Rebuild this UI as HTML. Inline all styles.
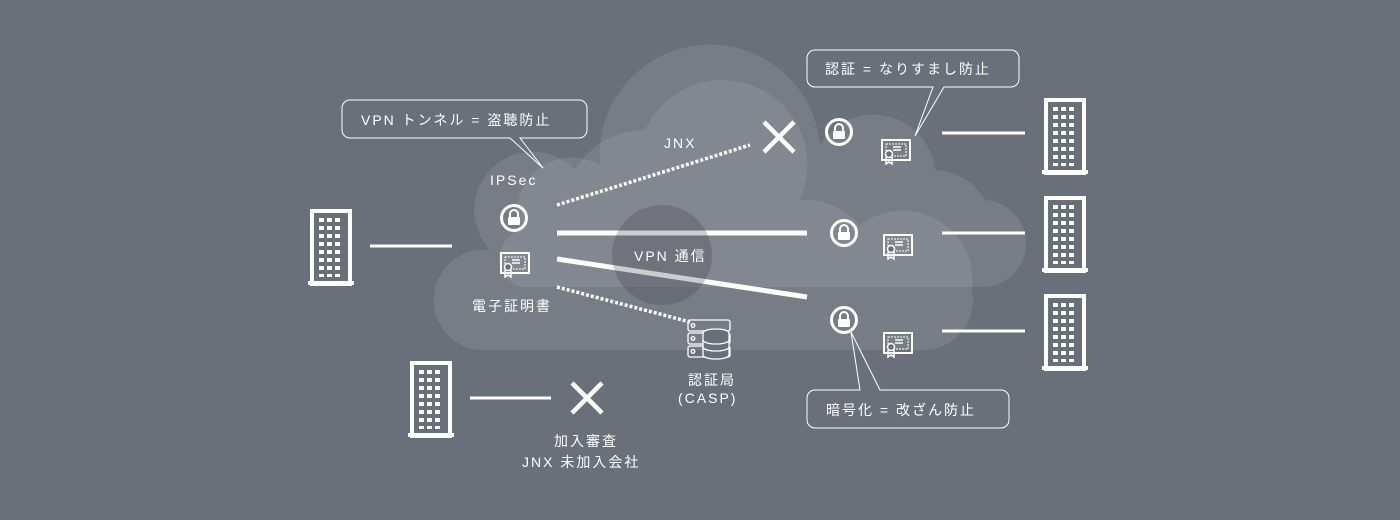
<!DOCTYPE html>
<html><head><meta charset="utf-8"><style>
html,body{margin:0;padding:0;background:#6a7079;}
svg{display:block}
text{font-family:"Liberation Sans","Noto Sans CJK JP",sans-serif;fill:#fff;font-size:14px;letter-spacing:2px}
</style></head><body>
<svg width="1400" height="520" viewBox="0 0 1400 520" xmlns="http://www.w3.org/2000/svg">
<defs>
<g id="bld">
 <rect x="4" y="2" width="38" height="73" fill="none" stroke="#fff" stroke-width="4"/>
 <rect x="0" y="72" width="46" height="4" fill="#fff"/>
 <g fill="#fff">
  <rect x="11" y="9" width="5" height="4"/><rect x="19" y="9" width="5" height="4"/><rect x="27" y="9" width="5" height="4"/>
  <rect x="11" y="17" width="5" height="4"/><rect x="19" y="17" width="5" height="4"/><rect x="27" y="17" width="5" height="4"/>
  <rect x="11" y="25" width="5" height="4"/><rect x="19" y="25" width="5" height="4"/><rect x="27" y="25" width="5" height="4"/>
  <rect x="11" y="33" width="5" height="4"/><rect x="19" y="33" width="5" height="4"/><rect x="27" y="33" width="5" height="4"/>
  <rect x="11" y="41" width="5" height="4"/><rect x="19" y="41" width="5" height="4"/><rect x="27" y="41" width="5" height="4"/>
  <rect x="11" y="49" width="5" height="4"/><rect x="19" y="49" width="5" height="4"/><rect x="27" y="49" width="5" height="4"/>
  <rect x="11" y="57" width="5" height="4"/><rect x="19" y="57" width="5" height="4"/><rect x="27" y="57" width="5" height="4"/>
  <rect x="11" y="65" width="5" height="3"/><rect x="19" y="65" width="5" height="3"/><rect x="27" y="65" width="5" height="3"/>
 </g>
</g>
<g id="lock">
 <circle cx="0" cy="0" r="12.5" fill="none" stroke="#fff" stroke-width="3"/>
 <path d="M-4,-1 v-3 a4,4 0 0 1 8,0 v3" fill="none" stroke="#fff" stroke-width="2"/>
 <rect x="-6" y="-1" width="12" height="8" rx="1" fill="#fff"/>
</g>
<g id="cert">
 <rect x="-14" y="-10" width="28" height="20" fill="none" stroke="#fff" stroke-width="2"/>
 <path d="M-10,-6 h20 v12 h-20 z" fill="none" stroke="#fff" stroke-width="1" stroke-dasharray="2 1"/>
 <line x1="-3" y1="-3" x2="5" y2="-3" stroke="#fff" stroke-width="1.5"/>
 <line x1="-3" y1="0" x2="5" y2="0" stroke="#fff" stroke-width="1.5"/>
 <circle cx="-7" cy="4" r="3.5" fill="#6a7079" stroke="#fff" stroke-width="1.5"/>
 <path d="M-10,7 v7 l3,-2 l3,2 v-7" fill="none" stroke="#fff" stroke-width="1.5"/>
</g>
</defs>

<!-- back cloud -->
<g fill="#fff" fill-opacity="0.09">
 <path d="M520,287 L980,287 A42,42 0 0 0 985,200 A60,60 0 0 0 935,170 A62,62 0 0 0 820,145 A110,110 0 0 0 600,165 A55,55 0 0 0 520,230 A30,30 0 0 0 520,287 Z"/>
</g>
<!-- front cloud -->
<g fill="#fff" fill-opacity="0.09">
 <path d="M478,350 L925,350 A50,50 0 0 0 972,290 A70,70 0 0 0 860,225 A75,75 0 0 0 800,200 A80,80 0 0 0 645,130 A80,80 0 0 0 575,170 A55,55 0 0 0 490,250 A50,50 0 0 0 478,350 Z"/>
</g>
<!-- dark circle -->
<circle cx="662" cy="255" r="50" fill="#000" fill-opacity="0.12"/>

<!-- left building -->
<use href="#bld" x="308" y="209"/>
<line x1="370" y1="246" x2="452" y2="246" stroke="#fff" stroke-width="3"/>
<use href="#lock" x="514" y="218"/>
<use href="#cert" x="515" y="263"/>
<text x="490" y="185" font-size="13">IPSec</text>
<text x="472" y="311">電子証明書</text>

<!-- bubble 1 -->
<path d="M350,100 H579 a8,8 0 0 1 8,8 V130 a8,8 0 0 1 -8,8 H520 L543,168 L510,138 H350 a8,8 0 0 1 -8,-8 V108 a8,8 0 0 1 8,-8 Z" fill="#6a7079" fill-opacity="0.3" stroke="#fff" stroke-width="1"/>
<text x="361" y="125">VPN トンネル = 盗聴防止</text>

<!-- lines -->
<line x1="557" y1="205" x2="750" y2="145" stroke="#fff" stroke-width="3.5" stroke-dasharray="3 2"/>
<text x="664" y="148" font-size="13">JNX</text>
<g stroke="#fff" stroke-width="4.5"><line x1="764" y1="122" x2="794" y2="152"/><line x1="794" y1="122" x2="764" y2="152"/></g>
<line x1="557" y1="233" x2="807" y2="233" stroke="#fff" stroke-width="5"/>
<line x1="557" y1="259" x2="807" y2="297" stroke="#fff" stroke-width="5"/>
<circle cx="662" cy="255" r="50" fill="#6a7079" fill-opacity="0.35"/>
<text x="634" y="261">VPN 通信</text>
<line x1="557" y1="287" x2="690" y2="322" stroke="#fff" stroke-width="3.5" stroke-dasharray="3 2"/>

<!-- server -->
<g fill="none" stroke="#fff" stroke-width="1.3">
 <rect x="688" y="320" width="42" height="11" rx="2"/>
 <rect x="688" y="333" width="42" height="11" rx="2"/>
 <rect x="688" y="346" width="42" height="11" rx="2"/>
 <circle cx="693" cy="325.5" r="1.8"/><circle cx="693" cy="338.5" r="1.8"/><circle cx="693" cy="351.5" r="1.8"/>
 <ellipse cx="716" cy="333" rx="13" ry="4" fill="#6a7079"/>
 <path d="M703,333 v22 a13,4 0 0 0 26,0 v-22" fill="#6a7079"/>
 <path d="M703,340 a13,4 0 0 0 26,0 M703,347 a13,4 0 0 0 26,0"/>
</g>
<text x="688" y="385">認証局</text>
<text x="678" y="403">(CASP)</text>

<!-- right side -->
<use href="#lock" x="839" y="132"/>
<use href="#lock" x="844" y="233"/>
<use href="#lock" x="844" y="320"/>
<use href="#cert" x="896" y="150"/>
<use href="#cert" x="898" y="245"/>
<use href="#cert" x="898" y="343"/>
<g stroke="#fff" stroke-width="3">
 <line x1="942" y1="133" x2="1025" y2="133"/>
 <line x1="942" y1="233" x2="1025" y2="233"/>
 <line x1="942" y1="331" x2="1025" y2="331"/>
</g>
<use href="#bld" x="1042" y="98"/>
<use href="#bld" x="1042" y="196"/>
<use href="#bld" x="1042" y="294"/>

<!-- bubble 2 -->
<path d="M815,50 H1011 a8,8 0 0 1 8,8 V79 a8,8 0 0 1 -8,8 H944 L915,136 L933,87 H815 a8,8 0 0 1 -8,-8 V58 a8,8 0 0 1 8,-8 Z" fill="#6a7079" fill-opacity="0.3" stroke="#fff" stroke-width="1"/>
<text x="825" y="74">認証 = なりすまし防止</text>

<!-- bubble 3 -->
<path d="M815,390 H860 L851,332 L880,390 H1001 a8,8 0 0 1 8,8 V420 a8,8 0 0 1 -8,8 H815 a8,8 0 0 1 -8,-8 V398 a8,8 0 0 1 8,-8 Z" fill="#6a7079" fill-opacity="0.3" stroke="#fff" stroke-width="1"/>
<text x="826" y="415">暗号化 = 改ざん防止</text>

<!-- bottom -->
<use href="#bld" x="408" y="361"/>
<line x1="470" y1="398" x2="551" y2="398" stroke="#fff" stroke-width="3"/>
<g stroke="#fff" stroke-width="4.5"><line x1="572" y1="383" x2="602" y2="413"/><line x1="602" y1="383" x2="572" y2="413"/></g>
<text x="554" y="446">加入審査</text>
<text x="522" y="467">JNX 未加入会社</text>
</svg>
</body></html>
